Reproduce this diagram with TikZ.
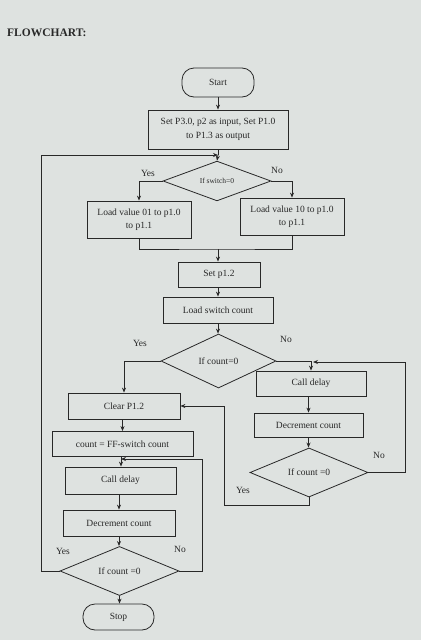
\documentclass[tikz,border=0pt]{standalone}
\usepackage{fontspec}
\setmainfont{Liberation Serif}
\usetikzlibrary{shapes.geometric,arrows.meta,positioning}
\definecolor{paper}{RGB}{222,226,224}
\definecolor{ink}{RGB}{40,40,40}
\begin{document}
\begin{tikzpicture}[x=1pt,y=-1pt,
  every node/.style={text=ink},
  box/.style={draw=ink,line width=0.8pt,rectangle,inner sep=1pt,align=center,font=\fontsize{9.5}{13.5}\selectfont},
  term/.style={box,rounded corners=12pt},
  dec/.style={draw=ink,line width=0.8pt,diamond,inner sep=0pt,align=center,font=\fontsize{9.5}{12}\selectfont},
  lbl/.style={font=\fontsize{9.5}{11}\selectfont,inner sep=0pt},
  con/.style={draw=ink,line width=0.8pt},
  arr/.style={con,-{Stealth[length=5pt,width=4pt]}}]
\fill[paper] (0,0) rectangle (421,640);
\useasboundingbox (0,0) rectangle (421,640);

\node[font=\fontsize{11.5}{13}\selectfont\bfseries,anchor=west,inner sep=0pt] (title) at (7,33) {FLOWCHART:};

\node[term,minimum width=72pt,minimum height=29pt] (start) at (218,82.5) {Start};
\node[box,minimum width=140pt,minimum height=39pt] (init) at (218,129.5) {Set P3.0, p2 as input, Set P1.0\\to P1.3 as output};
\node[dec,minimum width=108pt,minimum height=32pt,font=\fontsize{7.5}{9}\selectfont] (sw) at (217,181) {If switch=0};
\node[box,minimum width=104pt,minimum height=37pt] (load01) at (139,219.5) {Load value 01 to p1.0\\to p1.1};
\node[box,minimum width=104pt,minimum height=37pt] (load10) at (292,216.5) {Load value 10 to p1.0\\to p1.1};
\node[box,minimum width=82pt,minimum height=25pt] (set12) at (219,274.5) {Set p1.2};
\node[box,minimum width=110pt,minimum height=26pt] (lsc) at (218,310) {Load switch count};
\node[dec,minimum width=115pt,minimum height=54pt] (cnt0) at (218.5,361) {If count=0};
\node[box,minimum width=112pt,minimum height=26pt] (clr) at (124,406) {Clear P1.2};
\node[box,minimum width=110pt,minimum height=25pt] (cd2) at (311,383.5) {Call delay};
\node[box,minimum width=109pt,minimum height=24pt] (dc2) at (308.5,425) {Decrement count};
\node[dec,minimum width=118pt,minimum height=41pt] (cnt3) at (309,472.5) {If count =0};
\node[box,minimum width=141pt,minimum height=25pt] (ff) at (122.5,444) {count = FF-switch count};
\node[box,minimum width=111pt,minimum height=27pt] (cd1) at (120.5,480.5) {Call delay};
\node[box,minimum width=112pt,minimum height=26pt] (dc1) at (119,523) {Decrement count};
\node[dec,minimum width=119pt,minimum height=40pt] (cnt4) at (119.5,571) {If count =0};
\node[term,minimum width=71pt,minimum height=26pt] (stop) at (118.5,617) {Stop};

\coordinate (j1) at (218,155);
\coordinate (j2) at (218,249);
\coordinate (j3) at (313,362);
\coordinate (j4) at (224,505);
\coordinate (j5) at (121,459);

\draw[arr] (start.south) -- (start.south |- init.north);
\draw[con] (init.south) -- (j1);
\draw[arr] (j1) -- (sw.north);
\draw[arr] (cnt4.west) -- (41,571) -- (41,155) -- (j1);
\draw[arr] (sw.west) -| (load01.north);
\draw[arr] (sw.east) -| (load10.north);
\draw[con] (load01.south) |- (j2) -| (load10.south);
\draw[arr] (j2) -- (j2 |- set12.north);
\draw[arr] (set12.south -| lsc.north) -- (lsc.north);
\draw[arr] (lsc.south) -- (lsc.south |- cnt0.north);
\draw[arr] (cnt0.west) -| (clr.north);
\draw[arr] (cnt0.east) -| (cd2.north);
\draw[arr] (cd2.south -| dc2.north) -- (dc2.north);
\draw[arr] (dc2.south) -- (dc2.south |- cnt3.north);
\draw[arr] (cnt3.east) -- (405,472.5) |- (j3);
\draw[arr] (cnt3.south) |- (j4) |- (clr.east);
\draw[arr] (clr.south -| ff.north) -- (ff.north);
\draw[arr] (ff.south -| j5) -- (j5 |- cd1.north);
\draw[arr] (cnt4.east) -- (202,571) |- (j5);
\draw[arr] (cd1.south -| dc1.north) -- (dc1.north);
\draw[arr] (dc1.south) -- (dc1.south |- cnt4.north);
\draw[arr] (cnt4.south) -- (cnt4.south |- stop.north);

\node[lbl] (y1) at (148,173) {Yes};
\node[lbl] (n1) at (277,170) {No};
\node[lbl] (y2) at (140,343) {Yes};
\node[lbl] (n2) at (286,339) {No};
\node[lbl] (n3) at (379,455) {No};
\node[lbl] (y3) at (243,490) {Yes};
\node[lbl] (y4) at (63,551) {Yes};
\node[lbl] (n4) at (180,549) {No};
\end{tikzpicture}
\end{document}
